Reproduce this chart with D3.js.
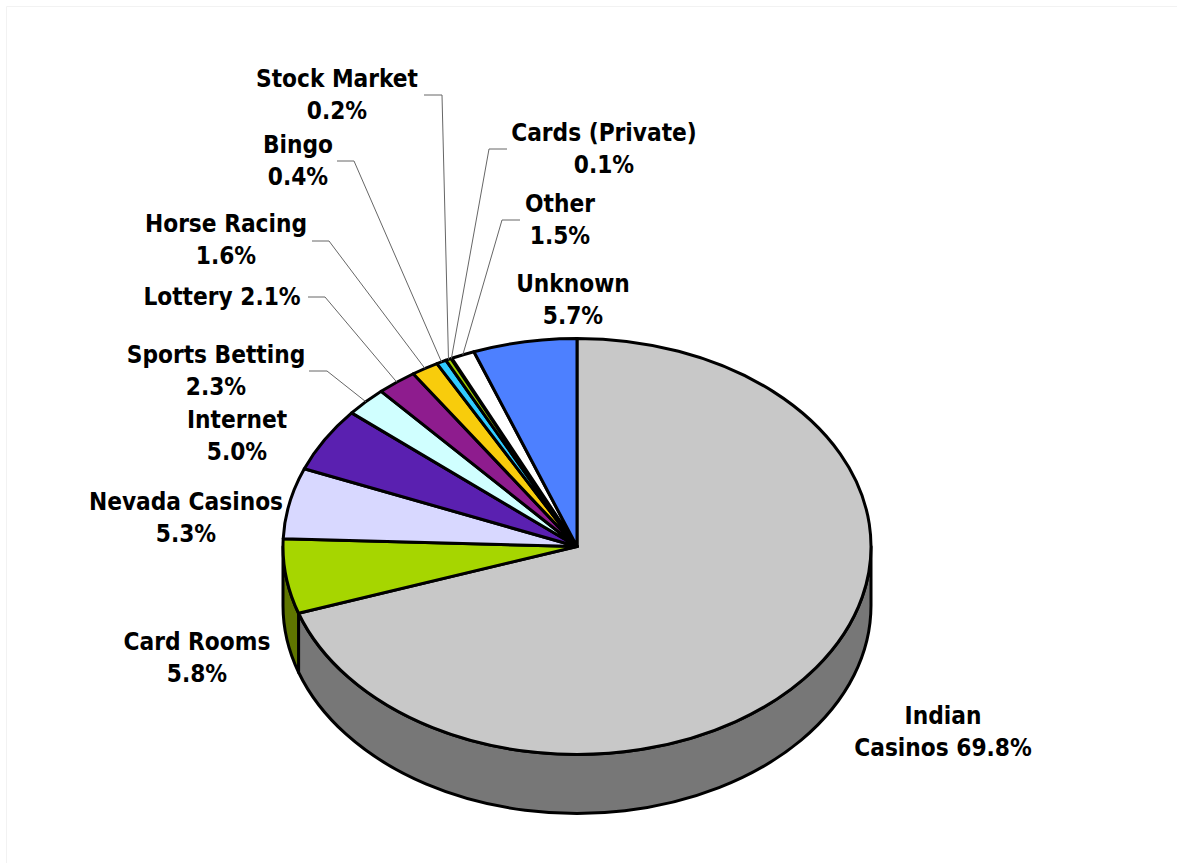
<!DOCTYPE html>
<html>
<head>
<meta charset="utf-8">
<script src="https://cdnjs.cloudflare.com/ajax/libs/d3/7.8.5/d3.min.js"></script>
<style>
html, body { margin: 0; padding: 0; background: #fff; }
svg { display: block; }
text { font-family: "DejaVu Sans Condensed", "DejaVu Sans", sans-serif; font-weight: bold; font-size: 24.2px; fill: #000; text-anchor: middle; }
</style>
</head>
<body>
<svg width="1177" height="863"></svg>
<script>
var categories = ['Indian Casinos', 'Card Rooms', 'Nevada Casinos', 'Internet', 'Sports Betting', 'Lottery',
	'Horse Racing', 'Bingo', 'Stock Market', 'Cards (Private)', 'Other', 'Unknown'];
// slice sizes, the printed labels only add up to 99.8
var shares = [69.8, 5.8, 5.5, 5.0, 2.3, 2.2, 1.5, 0.55, 0.3, 0.05, 1.3, 5.7];
var colors = ['#c8c8c8', '#a6d600', '#d8d8ff', '#5a20b0', '#d0ffff', '#8e1c8e',
	'#f8cc0c', '#30ccff', '#a0d000', '#a0d000', '#ffffff', '#4d80ff'];
var sideColors = ['#777777', '#5f7500'];

// label text, one entry per line
var labelLines = [['Indian', 'Casinos 69.8%'], ['Card Rooms', '5.8%'], ['Nevada Casinos', '5.3%'], ['Internet', '5.0%'],
	['Sports Betting', '2.3%'], ['Lottery 2.1%'], ['Horse Racing', '1.6%'], ['Bingo', '0.4%'],
	['Stock Market', '0.2%'], ['Cards (Private)', '0.1%'], ['Other', '1.5%'], ['Unknown', '5.7%']];
var labelX = [943, 197, 186, 237, 216, 222, 226, 298, 337, 604, 560, 573];
var labelY = [724, 650, 510, 428, 363, 305, 232, 153, 87, 141, 212, 292];

// leader lines: [label end x, elbow x, y], null when the label sits next to its slice
var leaders = [null, null, null, null, [309, 327, 371], [308, 325, 297], [312, 329, 241], [337, 354, 161],
	[424, 442, 95], [507, 489, 149], [520, 502, 220], null];

var cx = 577, cy = 546.5, rx = 294, ry = 208, depth = 59;

var svg = d3.select('svg');

svg.append('path')
	.attr('d', 'M6.5 863V6.5H1177')
	.attr('fill', 'none')
	.attr('stroke', '#f2f2f2');

var pie = d3.pie().sort(null).value(function(d){ return d; });
var slices = pie(shares);

function ex(a){ return cx + rx * Math.sin(a); }
function ey(a){ return cy - ry * Math.cos(a); }

// the wall below the rim, only the front half of the ellipse shows
slices.forEach(function(s, i){
	var a0 = Math.max(s.startAngle, Math.PI / 2),
		a1 = Math.min(s.endAngle, Math.PI * 1.5);
	if (a1 <= a0) return;
	var d = 'M' + ex(a0) + ' ' + ey(a0)
		+ 'A' + rx + ' ' + ry + ' 0 0 1 ' + ex(a1) + ' ' + ey(a1)
		+ 'L' + ex(a1) + ' ' + (ey(a1) + depth)
		+ 'A' + rx + ' ' + ry + ' 0 0 0 ' + ex(a0) + ' ' + (ey(a0) + depth) + 'Z';
	svg.append('path')
		.attr('d', d)
		.attr('fill', sideColors[i])
		.attr('stroke', '#000')
		.attr('stroke-width', 3)
		.attr('stroke-linejoin', 'round');
});

var arc = d3.arc().innerRadius(0).outerRadius(rx);

svg.append('g')
	.attr('transform', 'translate(' + cx + ',' + cy + ') scale(1,' + (ry / rx) + ')')
	.selectAll('path')
	.data(slices)
	.enter().append('path')
	.attr('d', arc)
	.attr('fill', function(d, i){ return colors[i]; })
	.attr('stroke', '#000')
	.attr('stroke-width', function(d, i){ return shares[i] < 0.1 ? 0 : 3; })
	.attr('stroke-linejoin', 'round')
	.attr('vector-effect', 'non-scaling-stroke');

// leaders run from beside the label to the middle of the slice's rim
slices.forEach(function(s, i){
	var l = leaders[i];
	if (!l) return;
	var mid = (s.startAngle + s.endAngle) / 2;
	svg.append('polyline')
		.attr('points', [l[0], l[2], l[1], l[2], ex(mid), ey(mid)].join(' '))
		.attr('fill', 'none')
		.attr('stroke', '#666')
		.attr('stroke-width', 1);
});

categories.forEach(function(c, i){
	var t = svg.append('text')
		.attr('class', 'label')
		.attr('data-category', c)
		.attr('x', labelX[i])
		.attr('y', labelY[i]);
	labelLines[i].forEach(function(line, n){
		t.append('tspan')
			.attr('x', labelX[i])
			.attr('dy', n ? 32 : 0)
			.text(line);
	});
});
</script>
</body>
</html>
